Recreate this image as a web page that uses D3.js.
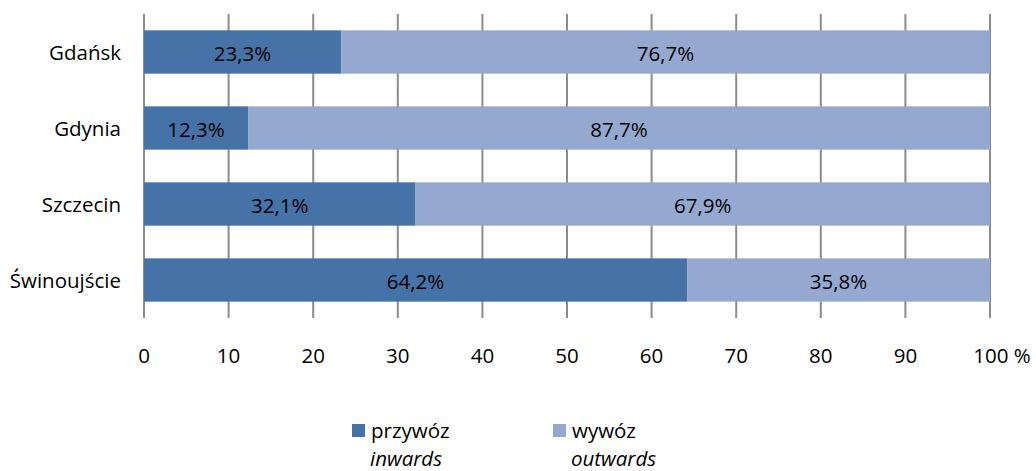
<!DOCTYPE html>
<html>
<head>
<meta charset="utf-8">
<script src="https://cdn.jsdelivr.net/npm/d3@7"></script>
<style>
  html, body { margin: 0; padding: 0; background: #fff; }
  svg { display: block; font-family: "Open Sans", "Noto Sans", sans-serif; }
</style>
</head>
<body>
<svg id="chart" width="1036" height="471"></svg>
<script>
// Port cargo structure: share of inward vs outward traffic (%)
const ports = ["Gdańsk", "Gdynia", "Szczecin", "Świnoujście"];
const inwards = [23.3, 12.3, 32.1, 64.2];
const outwards = [76.7, 87.7, 67.9, 35.8];
const tickValues = [0, 10, 20, 30, 40, 50, 60, 70, 80, 90, 100];
const seriesNames = ["przywóz", "wywóz"];
const seriesSubtitles = ["inwards", "outwards"];
const seriesColors = ["#4573a7", "#95a9d0"];

const svg = d3.select("#chart");
const plot = { left: 144, right: 990, top: 14, bottom: 318 };
const fontSize = 20.5;

const x = d3.scaleLinear().domain([0, 100]).range([plot.left, plot.right]);
const y = d3.scaleBand().domain(ports).range([plot.top, plot.bottom])
  .paddingInner(0.43).paddingOuter(0.215);

// vertical grid lines
svg.append("g").selectAll("line").data(tickValues).join("line")
  .attr("x1", d => x(d)).attr("x2", d => x(d))
  .attr("y1", plot.top).attr("y2", plot.bottom)
  .attr("stroke", "#8c8c8c").attr("stroke-width", 2);

// stacked bars
const rows = ports.map((p, i) => ({ port: p, values: [inwards[i], outwards[i]] }));
const fmt = v => d3.format(".1f")(v).replace(".", ",") + "%";

rows.forEach(r => {
  let acc = 0;
  r.values.forEach((v, s) => {
    const x0 = x(acc), x1 = x(acc + v);
    svg.append("rect")
      .attr("x", x0).attr("y", y(r.port))
      .attr("width", x1 - x0).attr("height", y.bandwidth())
      .attr("fill", seriesColors[s]);
    svg.append("text")
      .attr("x", (x0 + x1) / 2).attr("y", y(r.port) + y.bandwidth() / 2 + 1)
      .attr("text-anchor", "middle").attr("dominant-baseline", "central")
      .attr("font-size", fontSize).attr("fill", "#000")
      .text(fmt(v));
    acc += v;
  });
});

// category labels
svg.append("g").selectAll("text").data(ports).join("text")
  .attr("x", 121).attr("y", d => y(d) + y.bandwidth() / 2)
  .attr("text-anchor", "end").attr("dominant-baseline", "central")
  .attr("font-size", fontSize).attr("fill", "#000")
  .text(d => d);

// value axis labels
svg.append("g").selectAll("text").data(tickValues).join("text")
  .attr("x", d => d === 100 ? x(d) + 12 : x(d)).attr("y", 355)
  .attr("text-anchor", "middle").attr("dominant-baseline", "central")
  .attr("font-size", fontSize).attr("fill", "#000")
  .text(d => d === 100 ? "100 %" : d);

// legend
const legendX = [352, 553];
seriesNames.forEach((name, i) => {
  const g = svg.append("g").attr("transform", `translate(${legendX[i]},0)`);
  g.append("rect").attr("x", 0).attr("y", 424).attr("width", 13).attr("height", 13)
    .attr("fill", seriesColors[i]);
  g.append("text").attr("x", 19).attr("y", 430)
    .attr("dominant-baseline", "central").attr("font-size", fontSize).attr("fill", "#000")
    .text(name);
  g.append("text").attr("x", 18).attr("y", 458)
    .attr("dominant-baseline", "central").attr("font-size", fontSize).attr("font-style", "italic")
    .attr("fill", "#000")
    .text(seriesSubtitles[i]);
});
</script>
</body>
</html>
